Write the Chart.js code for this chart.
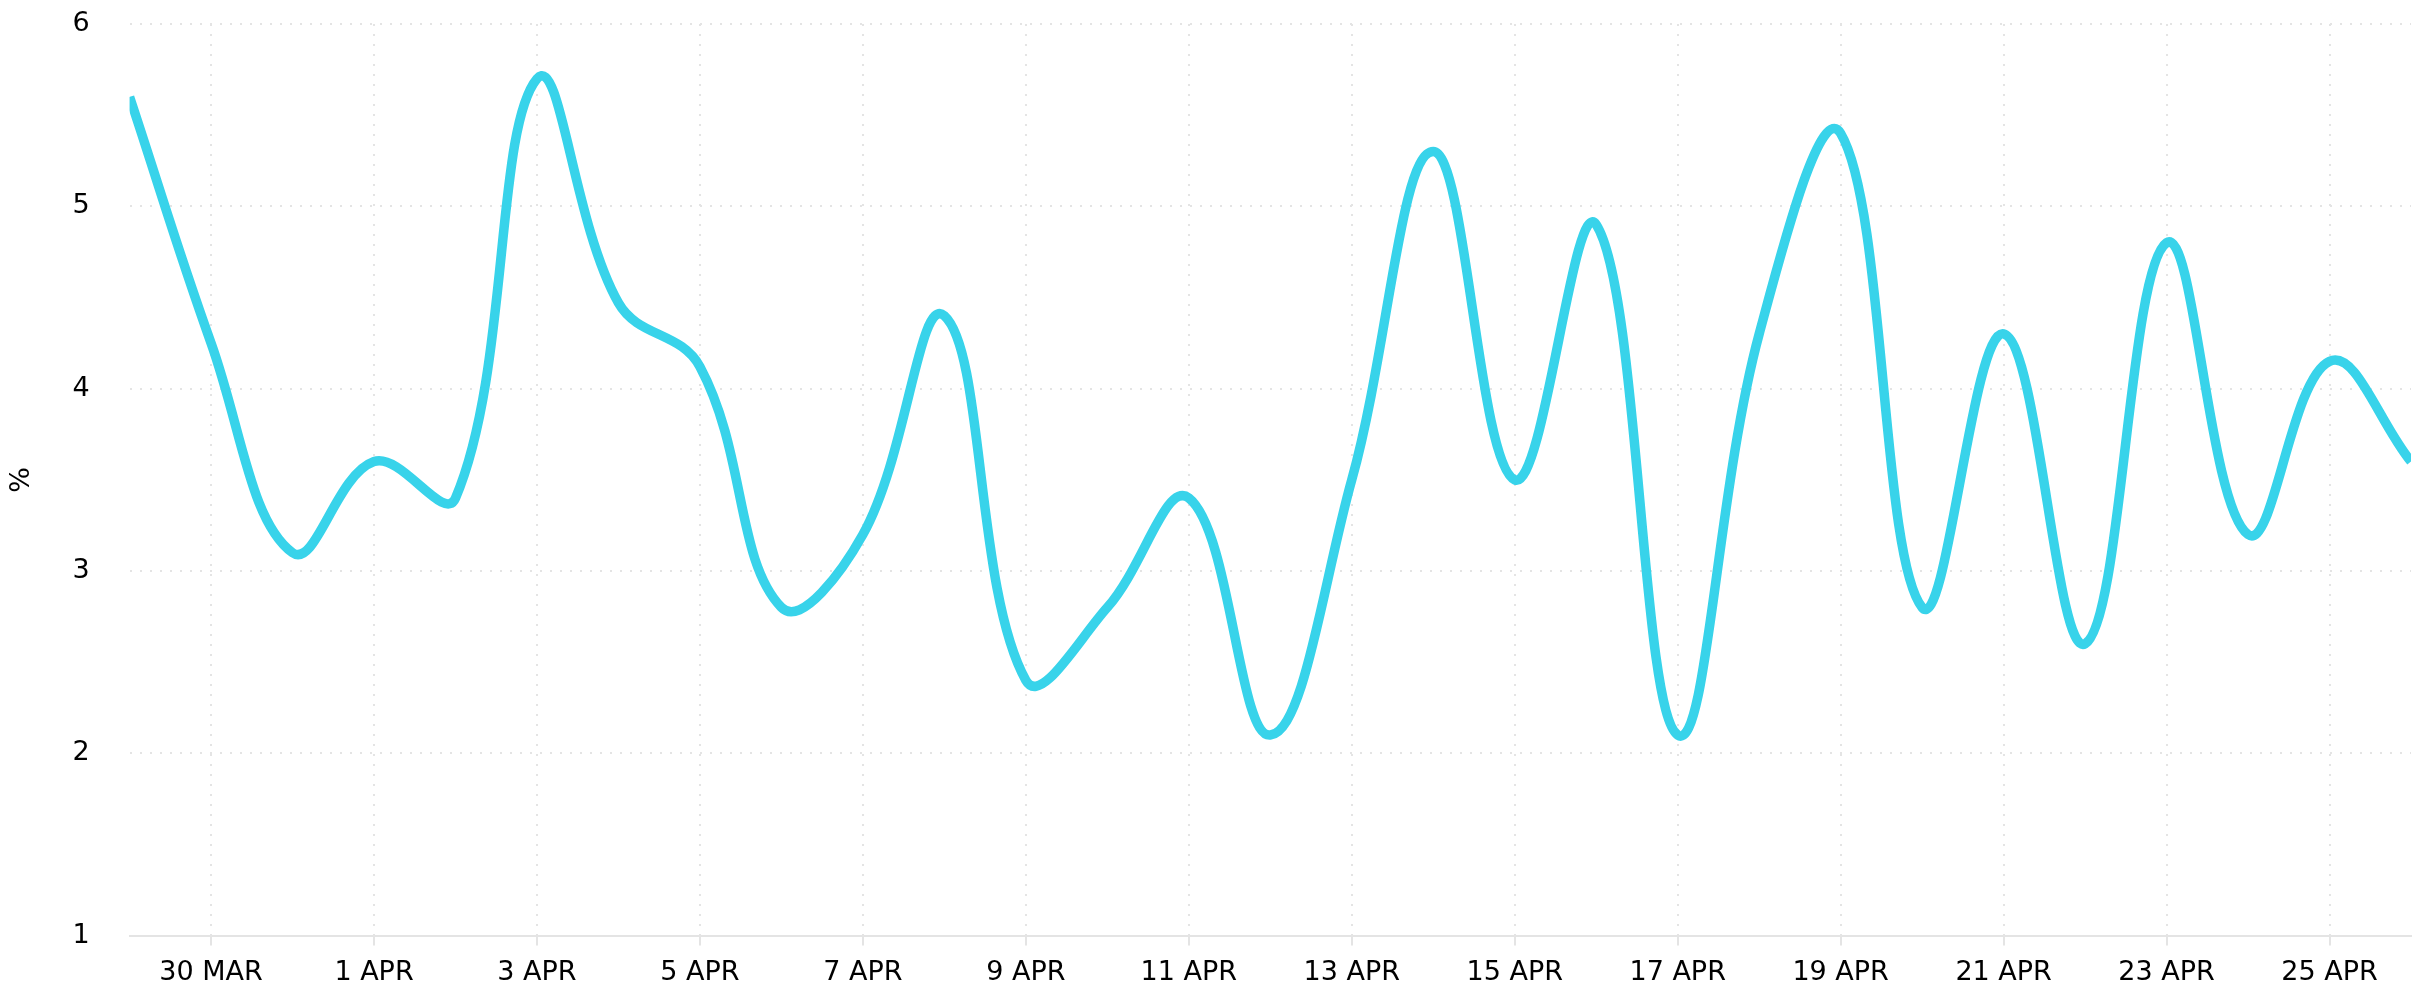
<!DOCTYPE html>
<html>
<head>
<meta charset="utf-8">
<script src="https://cdn.jsdelivr.net/npm/chart.js@4"></script>
<style>
  html, body { margin: 0; padding: 0; background: #fff; }
  #wrap { width: 2425px; height: 1000px; }
</style>
</head>
<body>
<div id="wrap"><canvas id="grafik"></canvas></div>
<script>
// Tanggal harian (29 MAR - 26 APR)
const dates = [
    '29 MAR', '30 MAR', '31 MAR', '1 APR', '2 APR', '3 APR', '4 APR', '5 APR',
    '6 APR', '7 APR', '8 APR', '9 APR', '10 APR', '11 APR', '12 APR', '13 APR',
    '14 APR', '15 APR', '16 APR', '17 APR', '18 APR', '19 APR', '20 APR', '21 APR',
    '22 APR', '23 APR', '24 APR', '25 APR', '26 APR'
];

// Nilai persentase per hari
const percentValues = [
    5.6, 4.25, 3.1, 3.6, 3.4, 5.7, 4.47, 4.12,
    2.8, 3.2, 4.4, 2.4, 2.8, 3.4, 2.1, 3.5,
    5.3, 3.5, 4.9, 2.1, 4.3, 5.4, 2.8, 4.3,
    2.6, 4.8, 3.2, 4.15, 3.6
];

const yTicks = [1, 2, 3, 4, 5, 6];

const fontFamily = "'DejaVu Sans', sans-serif";
const gridColor = '#e4e4e4';

const ctx = document.getElementById('grafik').getContext('2d');

new Chart(ctx, {
    type: 'line',
    data: {
        labels: dates,
        datasets: [{
            label: '%',
            data: percentValues,
            borderColor: '#38d3ea',
            borderWidth: 9.5,
            tension: 0.4,
            pointRadius: 0,
            fill: false,
            clip: 0
        }]
    },
    options: {
        responsive: true,
        maintainAspectRatio: false,
        animation: false,
        layout: {
            padding: { top: 24, right: 14, bottom: 0, left: 0 }
        },
        plugins: {
            legend: { display: false },
            tooltip: { enabled: false }
        },
        scales: {
            x: {
                offset: false,
                border: { display: true, color: gridColor, width: 2, dash: [2, 8] },
                grid: {
                    color: gridColor,
                    lineWidth: 2,
                    tickBorderDash: [1, 0],
                    tickLength: 10,
                    tickColor: gridColor,
                    tickWidth: 2
                },
                ticks: {
                    autoSkip: false,
                    maxRotation: 0,
                    padding: 11,
                    color: '#000',
                    font: { family: fontFamily, size: 27 },
                    // label hanya tiap 2 hari, yang lain disembunyikan
                    callback: function (value, index) {
                        return index % 2 === 1 ? dates[index] : null;
                    }
                }
            },
            y: {
                min: yTicks[0],
                max: yTicks[yTicks.length - 1],
                border: { display: false, dash: [2, 8] },
                grid: {
                    color: gridColor,
                    lineWidth: 2,
                    drawTicks: true,
                    tickLength: 36,
                    tickColor: 'rgba(0,0,0,0)'
                },
                afterBuildTicks: function (axis) {
                    axis.ticks = yTicks.map(v => ({ value: v }));
                },
                ticks: {
                    padding: 4,
                    color: '#000',
                    font: { family: fontFamily, size: 27 }
                },
                title: {
                    display: true,
                    text: '%',
                    color: '#000',
                    font: { family: fontFamily, size: 27 },
                    padding: { top: 6, bottom: 30 }
                }
            }
        }
    }
});
</script>
</body>
</html>
